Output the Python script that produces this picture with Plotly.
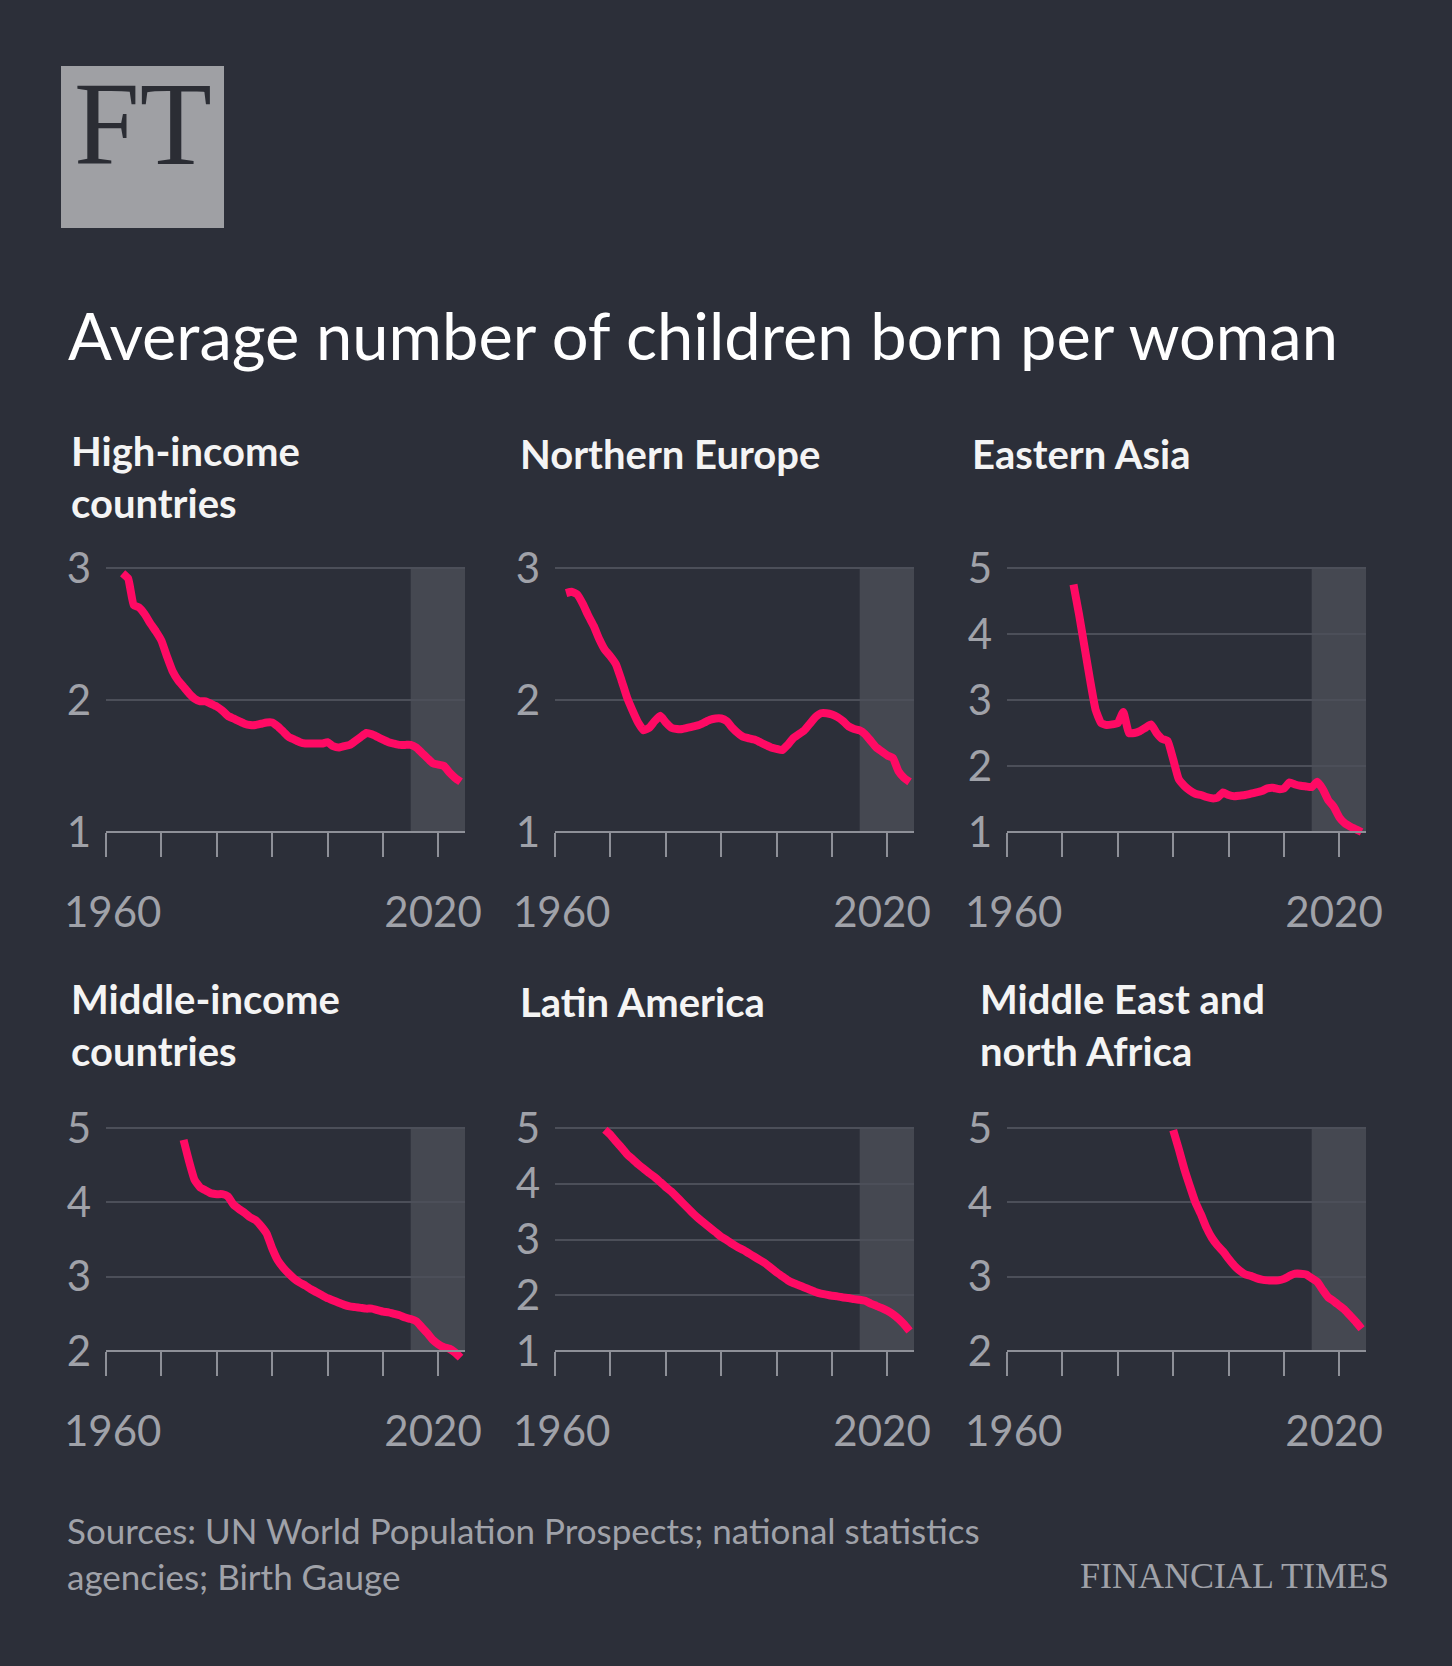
import plotly.graph_objects as go

# Total fertility rate
hi_income_years = list(range(1963, 2025))
hi_income_vals = [2.96, 2.92, 2.72, 2.70, 2.65, 2.58, 2.52, 2.45, 2.33, 2.22,
                  2.15, 2.10, 2.05, 2.01, 1.99, 1.99, 1.97, 1.95, 1.92, 1.88,
                  1.86, 1.84, 1.82, 1.81, 1.81, 1.82, 1.83, 1.83, 1.80, 1.76,
                  1.72, 1.70, 1.68, 1.67, 1.67, 1.67, 1.67, 1.68, 1.65, 1.64,
                  1.65, 1.66, 1.69, 1.72, 1.75, 1.74, 1.72, 1.70, 1.68, 1.67,
                  1.66, 1.66, 1.66, 1.64, 1.60, 1.56, 1.52, 1.51, 1.50, 1.45,
                  1.41, 1.38]

n_europe_years = list(range(1962, 2025))
n_europe_vals = [2.81, 2.82, 2.80, 2.73, 2.64, 2.56, 2.46, 2.38, 2.33, 2.27,
                 2.15, 2.02, 1.92, 1.83, 1.77, 1.79, 1.84, 1.88, 1.83, 1.79,
                 1.78, 1.78, 1.79, 1.80, 1.81, 1.83, 1.85, 1.86, 1.86, 1.84,
                 1.79, 1.75, 1.72, 1.71, 1.70, 1.68, 1.66, 1.64, 1.63, 1.62,
                 1.66, 1.71, 1.74, 1.77, 1.82, 1.87, 1.90, 1.90, 1.89, 1.87,
                 1.84, 1.80, 1.78, 1.77, 1.74, 1.69, 1.64, 1.61, 1.58, 1.56,
                 1.46, 1.41, 1.38]

e_asia_years = list(range(1972, 2025))
e_asia_vals = [4.75, 4.30, 3.80, 3.30, 2.85, 2.65, 2.62, 2.63, 2.65, 2.82,
               2.50, 2.50, 2.53, 2.58, 2.63, 2.50, 2.41, 2.38, 2.10, 1.80,
               1.70, 1.63, 1.58, 1.56, 1.53, 1.51, 1.52, 1.60, 1.56, 1.54,
               1.55, 1.56, 1.58, 1.60, 1.62, 1.66, 1.67, 1.65, 1.66, 1.75,
               1.72, 1.70, 1.69, 1.68, 1.76, 1.65, 1.48, 1.38, 1.22, 1.13,
               1.08, 1.04, 1.00]

mid_income_years = list(range(1974, 2025))
mid_income_vals = [4.84, 4.55, 4.30, 4.20, 4.16, 4.12, 4.11, 4.11, 4.08, 3.97,
                   3.91, 3.86, 3.80, 3.76, 3.68, 3.58, 3.38, 3.22, 3.12, 3.04,
                   2.97, 2.92, 2.88, 2.83, 2.79, 2.75, 2.71, 2.68, 2.65, 2.62,
                   2.60, 2.59, 2.58, 2.57, 2.57, 2.55, 2.53, 2.52, 2.50, 2.48,
                   2.45, 2.43, 2.40, 2.32, 2.24, 2.15, 2.09, 2.05, 2.03, 1.98,
                   1.91]

latam_years = list(range(1969, 2025))
latam_vals = [4.97, 4.88, 4.76, 4.65, 4.53, 4.44, 4.35, 4.27, 4.19, 4.12,
              4.03, 3.94, 3.86, 3.76, 3.66, 3.56, 3.46, 3.37, 3.29, 3.21,
              3.13, 3.05, 2.99, 2.92, 2.86, 2.81, 2.75, 2.69, 2.63, 2.57,
              2.49, 2.41, 2.34, 2.27, 2.22, 2.18, 2.14, 2.10, 2.06, 2.03,
              2.01, 1.99, 1.98, 1.96, 1.95, 1.93, 1.92, 1.90, 1.85, 1.81,
              1.77, 1.72, 1.66, 1.58, 1.48, 1.36]

mena_years = list(range(1990, 2025))
mena_vals = [4.97, 4.72, 4.45, 4.22, 4.00, 3.84, 3.66, 3.52, 3.42, 3.34,
             3.24, 3.15, 3.08, 3.03, 3.01, 2.98, 2.96, 2.95, 2.95, 2.95,
             2.97, 3.01, 3.04, 3.04, 3.03, 2.98, 2.93, 2.82, 2.72, 2.67,
             2.61, 2.55, 2.47, 2.39, 2.30]

panel_titles = ["High-income<br>countries", "Northern Europe", "Eastern Asia",
                "Middle-income<br>countries", "Latin America", "Middle East and<br>north Africa"]
panel_years = [hi_income_years, n_europe_years, e_asia_years, mid_income_years, latam_years, mena_years]
panel_vals = [hi_income_vals, n_europe_vals, e_asia_vals, mid_income_vals, latam_vals, mena_vals]
y_lo = [1, 1, 1, 2, 1, 2]
y_hi = [3, 3, 5, 5, 5, 5]

tick_years = [1960, 1970, 1980, 1990, 2000, 2010, 2020]
# the end labels sit a little inside their ticks
tick_text = ["\u00a0\u200a1960", "", "", "", "", "", "2020\u00a0"]
x_span = [1960, 2024.8]
shade_from = 2015

W, H = 1452, 1666
BG = "#2c2f39"
PINK = "#ff0a64"
SHADE = "#454851"
GRID = "#4c4f59"
AXIS = "#8e9098"
LABEL = "#a0a2a9"
SANS = "Lato, 'Open Sans', sans-serif"
SERIF = "'Liberation Serif', 'DejaVu Serif', serif"


def fx(p):
    return p / W


def fy(p):
    return 1 - p / H


# pixel boxes of the panels: (left, right) and (axis y, top gridline y)
col_px = [(106, 465), (555, 914), (1007, 1366)]
row_px = [(832, 568), (1351, 1128)]
title_x = [[69, 518, 970], [69, 518, 978]]
title_y = [454, 1002]
pad = 0.05

fig = go.Figure()
layout = {}
shapes = []
annotations = []

for i in range(6):
    r, c = divmod(i, 3)
    ax = "" if i == 0 else str(i + 1)
    lo, hi = y_lo[i], y_hi[i]
    span = hi - lo
    bot, top = row_px[r]
    left, right = col_px[c]
    padpx = pad * (bot - top)

    fig.add_trace(go.Scatter(
        x=panel_years[i], y=panel_vals[i], mode="lines",
        line=dict(color=PINK, width=8, shape="spline", smoothing=0.4),
        xaxis="x" + ax, yaxis="y" + ax, hoverinfo="skip", showlegend=False))

    layout["xaxis" + ax] = dict(
        domain=[fx(left), fx(right)], range=x_span, anchor="free", position=fy(bot),
        automargin=False, showgrid=False, zeroline=False, showline=True,
        linecolor=AXIS, linewidth=2,
        ticks="outside", ticklen=24, tickwidth=2, tickcolor=AXIS,
        tickvals=tick_years, ticktext=tick_text, ticklabelstandoff=20,
        tickfont=dict(family=SANS, size=42, color=LABEL), fixedrange=True)
    layout["yaxis" + ax] = dict(
        domain=[fy(bot + padpx), fy(top - padpx)],
        range=[lo - pad * span, hi + pad * span], anchor="x" + ax,
        automargin=False, showgrid=True, gridcolor=GRID, gridwidth=1.5,
        zeroline=False, showline=False,
        ticks="", tickvals=list(range(lo, hi + 1)), ticklabelstandoff=14,
        tickfont=dict(family=SANS, size=42, color=LABEL), fixedrange=True)

    shapes.append(dict(type="rect", xref="x" + ax, yref="y" + ax,
                       x0=shade_from, x1=x_span[1], y0=lo, y1=hi,
                       fillcolor=SHADE, line_width=0, layer="below"))

    n_lines = panel_titles[i].count("<br>") + 1
    annotations.append(dict(
        text="<b>" + panel_titles[i] + "</b>", xref="paper", yref="paper",
        x=fx(title_x[r][c]), y=fy(title_y[r] + 23 * (n_lines - 1)),
        xanchor="left", yanchor="middle", align="left", showarrow=False,
        font=dict(family=SANS, size=40, color="#f4f4f4")))

# FT logo box
shapes.append(dict(type="rect", xref="paper", yref="paper",
                   x0=fx(61), x1=fx(224), y0=fy(228), y1=fy(66),
                   fillcolor="#9fa0a4", line_width=0, layer="above"))
annotations.append(dict(text="FT", xref="paper", yref="paper", x=fx(143), y=fy(124),
                        xanchor="center", yanchor="middle", showarrow=False,
                        font=dict(family=SERIF, size=118, color="#2b2d34")))

annotations.append(dict(text="Average number of children born per woman",
                        xref="paper", yref="paper", x=fx(66), y=fy(335),
                        xanchor="left", yanchor="middle", showarrow=False,
                        font=dict(family=SANS, size=65, color="#ffffff")))

annotations.append(dict(text="Sources: UN World Population Prospects; national statistics<br>agencies; Birth Gauge",
                        xref="paper", yref="paper", x=fx(65), y=fy(1553),
                        xanchor="left", yanchor="middle", align="left", showarrow=False,
                        font=dict(family=SANS, size=35, color=LABEL)))

annotations.append(dict(text="FINANCIAL TIMES", xref="paper", yref="paper",
                        x=fx(1391), y=fy(1576), xanchor="right", yanchor="middle",
                        showarrow=False, font=dict(family=SERIF, size=36, color=LABEL)))

fig.update_layout(
    width=W, height=H, margin=dict(l=0, r=0, t=0, b=0, autoexpand=False),
    paper_bgcolor=BG, plot_bgcolor=BG,
    shapes=shapes, annotations=annotations, **layout)

fig.write_html("out.html", config={"displayModeBar": False},
               post_script="document.body.style.margin='0';"
                           "document.body.style.background='" + BG + "';")
